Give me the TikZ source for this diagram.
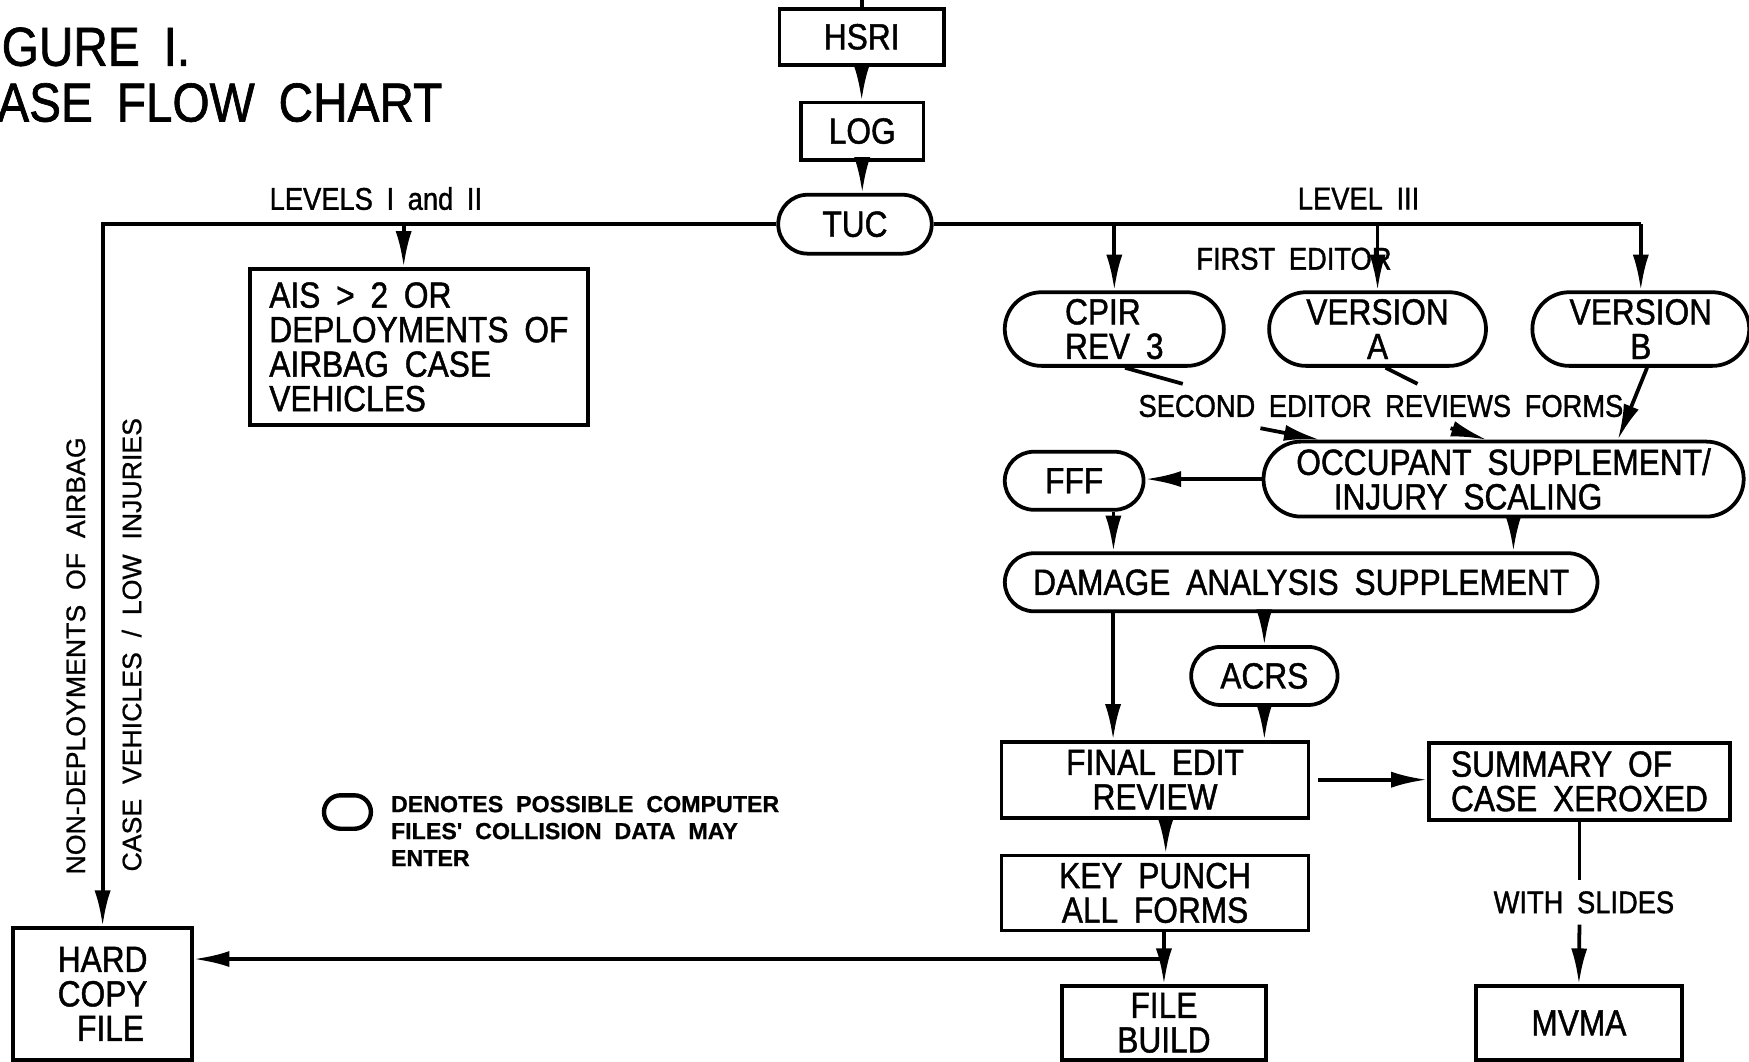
\documentclass[tikz,border=0pt]{standalone}
\usepackage{fontspec}
\setmainfont{Liberation Sans}[FakeStretch=0.87,FakeBold=1.2,WordSpace=1.8]
\newfontfamily\plainfont{Liberation Sans}[FakeBold=0.8,WordSpace=2]
\usepackage{tikz}
\usetikzlibrary{shapes.misc, arrows.meta}
\tikzstyle{box} = [rectangle, draw=black, line width=1.2pt, align=center, inner sep=1pt, font=\fontsize{11.6}{11}\selectfont]
\tikzstyle{pill} = [rounded rectangle, draw=black, line width=1.2pt, align=center, inner sep=1pt, font=\fontsize{11.6}{11}\selectfont]
\tikzstyle{tag} = [font=\fontsize{10}{11}\selectfont]
\tikzstyle{sidetag} = [rotate=90, font=\plainfont\fontsize{8.5}{10}\selectfont]
\tikzstyle{arrow} = [line width=1.2pt, -{Latex[length=4mm,width=1.8mm]}]
\tikzstyle{line} = [line width=1.2pt]

\begin{document}
\begin{tikzpicture}[x=0.0125cm, y=-0.0125cm]
		\useasboundingbox (0,0) rectangle (1568,952);
		
		% title
		\node (fig) [anchor=west, inner sep=0pt, font=\fontsize{17.5}{20}\selectfont] at (1,42) {GURE I.};
		\node (title) [anchor=west, inner sep=0pt, font=\fontsize{17.5}{20}\selectfont] at (-3,92) {ASE FLOW CHART};
		
		% top of the chart
		\node (hsri) [box, minimum width=1.84cm, minimum height=0.625cm] at (772.5,33) {HSRI};
		\node (log) [box, minimum width=1.375cm, minimum height=0.64cm] at (773,117.5) {LOG};
		\node (tuc) [pill, minimum width=1.79cm, minimum height=0.66cm] at (766.5,201) {TUC};
		
		% levels I and II
		\node (ais) [box, align=left, minimum width=3.79cm, minimum height=1.75cm] at (375.5,311) {AIS > 2 OR\\DEPLOYMENTS OF\\AIRBAG CASE\\VEHICLES};
		\node (hardcopy) [box, minimum width=2cm, minimum height=1.475cm] at (92,891) {HARD\\COPY\\\ FILE};
		
		% level III
		\node (cpir) [pill, align=left, minimum width=2.525cm, minimum height=0.825cm] at (999,295) {CPIR\\REV 3};
		\node (versiona) [pill, minimum width=2.5cm, minimum height=0.825cm] at (1235,295) {VERSION\\A};
		\node (versionb) [pill, minimum width=2.5cm, minimum height=0.825cm] at (1471,295) {VERSION\\B};
		\node (occupant) [pill, align=left, minimum width=5.45cm, minimum height=0.84cm] at (1348,429.5) {OCCUPANT SUPPLEMENT/\\\hspace*{0.42cm}INJURY SCALING};
		\node (fff) [pill, minimum width=1.625cm, minimum height=0.65cm] at (963,431) {FFF};
		\node (damage) [pill, minimum width=6.71cm, minimum height=0.65cm] at (1166.5,522) {DAMAGE ANALYSIS SUPPLEMENT};
		\node (acrs) [pill, minimum width=1.71cm, minimum height=0.65cm] at (1133.5,606) {ACRS};
		\node (final) [box, minimum width=3.44cm, minimum height=0.85cm] at (1035.5,699) {FINAL EDIT\\REVIEW};
		\node (summary) [box, align=left, minimum width=3.375cm, minimum height=0.86cm] at (1416,700.5) {SUMMARY OF\\CASE XEROXED};
		\node (keypunch) [box, minimum width=3.44cm, minimum height=0.84cm] at (1035.5,800.5) {KEY PUNCH\\ALL FORMS};
		\node (filebuild) [box, minimum width=2.29cm, minimum height=0.825cm] at (1043.5,917) {FILE\\BUILD};
		\node (mvma) [box, minimum width=2.31cm, minimum height=0.825cm] at (1415.5,917) {MVMA};
		
		% labels
		\node (lev12) [tag] at (337,178) {LEVELS I and II};
		\node (lev3) [tag] at (1218,178) {LEVEL III};
		\node (first) [tag] at (1160,232) {FIRST EDITOR};
		\node (second) [tag] at (1238,364) {SECOND EDITOR REVIEWS FORMS};
		\node (slides) [tag] at (1420,809) {WITH SLIDES};
		\node (nondep) [sidetag] at (68,588) {NON-DEPLOYMENTS OF AIRBAG};
		\node (lowinj) [sidetag] at (118,578) {CASE VEHICLES / LOW INJURIES};
		
		% legend
		\node (legend) [rounded rectangle, draw=black, line width=1.4pt, minimum width=0.76cm, minimum height=0.375cm] at (311.5,728) {};
		\node (legtext) [anchor=west, align=left, inner sep=0pt, font=\plainfont\bfseries\fontsize{7.4}{8.6}\selectfont] at (350,745) {DENOTES POSSIBLE COMPUTER\\FILES' COLLISION DATA MAY\\ENTER};
		
		\draw [line] (hsri.north) -- ++(0,-12);
		\draw [arrow] (hsri.south) -- (hsri.south |- log.north);
		\draw [arrow] (log.south) -- (log.south |- tuc.north);
		\draw [arrow] (tuc.west) -| (hardcopy.north);
		\draw [arrow] ([xshift=-0.17cm]ais.north |- tuc.west) -- ([xshift=-0.17cm]ais.north);
		\draw [line] (tuc.east) -- (versionb.north |- tuc.east);
		\draw [arrow] (cpir.north |- tuc.east) -- (cpir.north);
		\draw [arrow] (versiona.north |- tuc.east) -- (versiona.north);
		\draw [arrow] (versionb.north |- tuc.east) -- (versionb.north);
		
		\draw [line] ([xshift=0.12cm]cpir.south) -- ([xshift=-2.22cm]second.north);
		\draw [line] ([xshift=0.09cm]versiona.south) -- ([xshift=0.41cm]second.north);
		\draw [arrow] ([xshift=-1.35cm]second.south) -- ([xshift=-2.06cm]occupant.north);
		\draw [arrow] ([xshift=0.78cm]second.south) -- ([xshift=-0.19cm]occupant.north);
		\draw [arrow] ([xshift=0.07cm]versionb.south) -- ([xshift=1.28cm]occupant.north);
		
		\draw [arrow] (occupant.west) -- (occupant.west -| fff.east);
		\draw [arrow] ([xshift=0.44cm]fff.south) -- ([xshift=0.44cm]fff.south |- damage.north);
		\draw [arrow] ([xshift=0.11cm]occupant.south) -- ([xshift=0.11cm]occupant.south |- damage.north);
		\draw [arrow] ([xshift=-0.47cm]final.north |- damage.south) -- ([xshift=-0.47cm]final.north);
		\draw [arrow] (acrs.north |- damage.south) -- (acrs.north);
		\draw [arrow] (acrs.south) -- (acrs.south |- final.north);
		\draw [arrow] ([xshift=0.09cm]final.east) -- (final.east -| summary.west);
		\draw [arrow] ([xshift=0.12cm]final.south) -- ([xshift=0.12cm]final.south |- keypunch.north);
		\draw [arrow] (filebuild.north |- keypunch.south) -- (filebuild.north);
		\coordinate (hcin) at ([yshift=0.39cm]hardcopy.east);
		\draw [arrow] (filebuild.north |- hcin) -- (hcin);
		\draw [line] (summary.south) -- (summary.south |- slides.north);
		\draw [arrow] (summary.south |- slides.south) -- (mvma.north);
		
	\end{tikzpicture}
\end{document}
